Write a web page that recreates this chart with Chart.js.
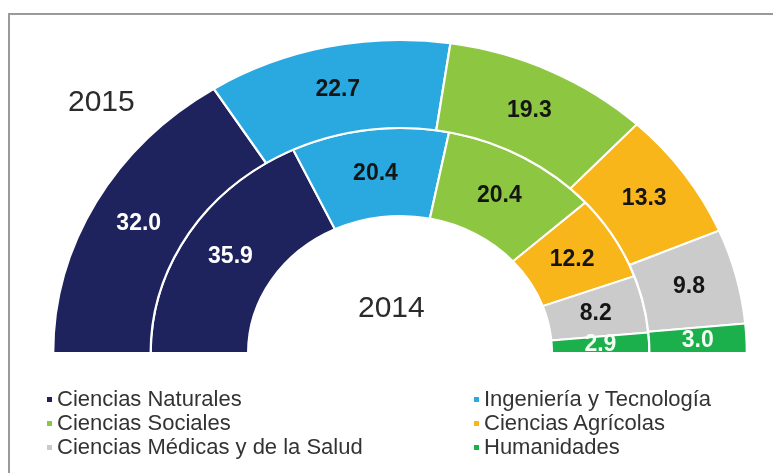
<!DOCTYPE html>
<html>
<head>
<meta charset="utf-8">
<script src="https://cdn.jsdelivr.net/npm/chart.js@4"></script>
<style>
    html, body { margin: 0; padding: 0; background: #fff; }
    body { width: 773px; height: 473px; position: relative; overflow: hidden; font-family: "Liberation Sans", Arial, sans-serif; }
    #frame { position: absolute; left: 8px; top: 13px; width: 900px; height: 600px; border-top: 2px solid #9a9a9a; border-left: 2px solid #9a9a9a; }
    #chartBox { position: absolute; left: 0; top: 0; width: 773px; height: 473px; }
    .year { position: absolute; font-size: 30px; color: #2b2b2b; line-height: 1; }
    #legend { position: absolute; left: 0; top: 0; width: 773px; height: 473px; pointer-events: none; }
    .item { position: absolute; font-size: 22px; color: #333; line-height: 24px; white-space: nowrap; }
    .item i { position: absolute; left: -10px; top: 10px; width: 5px; height: 5px; }
</style>
</head>
<body>
<div id="frame"></div>
<div id="chartBox"><canvas id="semiChart" width="773" height="473"></canvas></div>
<div class="year" style="left:68px; top:86px;">2015</div>
<div class="year" style="left:358px; top:292px;">2014</div>
<div id="legend"></div>

<script>
// 数据
const categories = [
    'Ciencias Naturales',
    'Ingeniería y Tecnología',
    'Ciencias Sociales',
    'Ciencias Agrícolas',
    'Ciencias Médicas y de la Salud',
    'Humanidades'
];
const values2015 = [32.0, 22.7, 19.3, 13.3, 9.8, 3.0];
const values2014 = [35.9, 20.4, 20.4, 12.2, 8.2, 2.9];
const yearLabels = ['2015', '2014'];

// 颜色
const sliceColors = ['#1f235d', '#29a9e0', '#8dc641', '#f9b61a', '#cbcbcb', '#1bb04c'];
const labelColors = ['#ffffff', '#151515', '#151515', '#151515', '#151515', '#f2fff2'];

// 图例位置（两列）
const legendOrder = [0, 1, 2, 3, 4, 5];
const legendSlots = [
    [57, 387], [484, 387],
    [57, 411], [484, 411],
    [57, 435], [484, 435]
];

const stretchX = 1.108;

// 横向拉伸半圆
const stretchPlugin = {
    id: 'stretch',
    beforeDatasetsDraw(chart) {
        const arc = chart.getDatasetMeta(0).data[0];
        const cx = arc.x;
        chart.ctx.save();
        chart.ctx.translate(cx, 0);
        chart.ctx.scale(stretchX, 1);
        chart.ctx.translate(-cx, 0);
    },
    afterDatasetsDraw(chart) {
        chart.ctx.restore();
    }
};

// 数值标签
const valueLabelPlugin = {
    id: 'valueLabels',
    afterDatasetsDraw(chart) {
        const ctx = chart.ctx;
        ctx.save();
        ctx.font = 'bold 23px "Liberation Sans", Arial, sans-serif';
        ctx.textAlign = 'center';
        ctx.textBaseline = 'middle';
        chart.data.datasets.forEach((ds, di) => {
            const meta = chart.getDatasetMeta(di);
            meta.data.forEach((arc, i) => {
                const p = arc.getCenterPoint();
                const cx = arc.x;
                const x = cx + (p.x - cx) * stretchX;
                ctx.fillStyle = labelColors[i];
                ctx.fillText(ds.data[i].toFixed(1), x, p.y);
            });
        });
        ctx.restore();
    }
};

const ctx = document.getElementById('semiChart').getContext('2d');
new Chart(ctx, {
    type: 'doughnut',
    data: {
        labels: categories,
        datasets: [
            {
                label: yearLabels[0],
                data: values2015,
                backgroundColor: sliceColors,
                borderColor: '#ffffff',
                borderWidth: 2,
                clip: false
            },
            {
                label: yearLabels[1],
                data: values2014,
                backgroundColor: sliceColors,
                borderColor: '#ffffff',
                borderWidth: 2,
                clip: false
            }
        ]
    },
    options: {
        responsive: false,
        animation: false,
        events: [],
        rotation: -90,
        circumference: 180,
        radius: 313,
        cutout: '43.8%',
        layout: {
            padding: { left: 27, right: 0, top: 0, bottom: 80 }
        },
        plugins: {
            legend: { display: false },
            tooltip: { enabled: false }
        }
    },
    plugins: [stretchPlugin, valueLabelPlugin]
});

// 图例
const legendEl = document.getElementById('legend');
legendOrder.forEach((idx, n) => {
    const item = document.createElement('div');
    item.className = 'item';
    item.style.left = legendSlots[n][0] + 'px';
    item.style.top = legendSlots[n][1] + 'px';
    const mark = document.createElement('i');
    mark.style.background = sliceColors[idx];
    item.appendChild(mark);
    item.appendChild(document.createTextNode(categories[idx]));
    legendEl.appendChild(item);
});
</script>
</body>
</html>
